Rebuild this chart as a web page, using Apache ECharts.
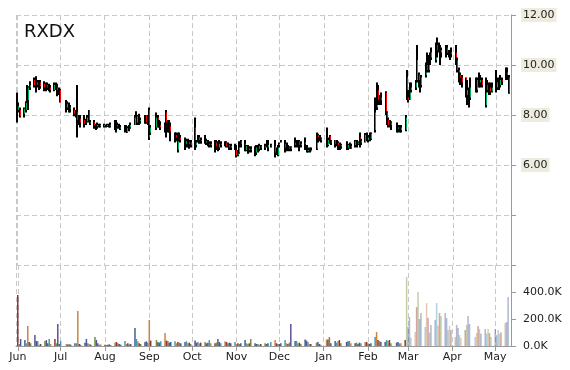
<!DOCTYPE html>
<html><head><meta charset="utf-8">
<script src="https://cdn.jsdelivr.net/npm/echarts@6/dist/echarts.min.js"></script>
<style>html,body{margin:0;padding:0;background:#fff}#c{width:570px;height:370px}</style>
</head><body><div id="c"></div>
<script>
const chartTitle = 'RXDX';
const monthNames = ['Jan','Feb','Mar','Apr','May','Jun','Jul','Aug','Sep','Oct','Nov','Dec'];
const firstDay = '2016-06-01';
const lastDay = '2017-05-10';
const holidays = ['2016-07-04','2016-09-05','2016-11-24','2016-12-26','2017-01-02','2017-01-16','2017-02-20','2017-04-14'];
const priceTicks = [2,4,6,8,10,12];
const volumeTicks = [0,200000,400000,600000];

// daily rows: [open, close, low, high]
const ohlcJun16 = [[8.4,8.2,7.7,8.9],[8.2,8.35,8.1,8.5],[8.2,7.95,7.9,8.3],[8.05,8.25,7.9,8.3],[8.2,8.5,8.1,8.55],[8.5,9.0,8.5,9.2],[8.6,9.1,8.2,9.15],[9.1,9.2,9.0,9.35],[9.4,9.2,9.1,9.5],[9.2,9.3,8.9,9.55],[9.3,9.2,9.1,9.4],[9.2,9.3,9.0,9.4],[9.3,9.15,9.05,9.4],[9.25,9.1,8.95,9.35],[9.1,9.2,8.95,9.3],[9.2,9.1,9.0,9.3],[9.05,9.2,8.95,9.25],[9.1,9.0,8.9,9.2],[9.0,9.2,8.95,9.3],[9.2,9.1,9.0,9.3],[9.1,9.0,8.75,9.25],[9.0,8.85,8.8,9.1]];
const ohlcJul16 = [[9.0,8.5,8.5,9.05],[8.5,8.3,8.1,8.6],[8.3,8.45,8.2,8.55],[8.4,8.3,8.1,8.5],[8.3,8.3,8.1,8.4],[8.2,8.05,7.95,8.3],[8.0,8.1,7.9,8.2],[8.1,7.8,7.1,9.2],[7.8,7.9,7.6,8.0],[7.85,7.7,7.5,8.0],[7.8,7.65,7.5,8.0],[7.7,7.75,7.6,7.85],[7.75,7.9,7.7,8.0],[8.2,7.7,7.7,8.2],[7.7,7.7,7.6,7.8],[7.7,7.6,7.45,7.8],[7.6,7.55,7.4,7.65],[7.55,7.6,7.45,7.7],[7.6,7.55,7.5,7.65],[7.55,7.6,7.5,7.65]];
const ohlcAug16 = [[7.55,7.6,7.5,7.65],[7.6,7.55,7.5,7.62],[7.55,7.6,7.52,7.65],[7.6,7.58,7.5,7.65],[7.58,7.6,7.5,7.7],[7.7,7.5,7.4,7.8],[7.45,7.6,7.3,7.8],[7.6,7.55,7.45,7.7],[7.55,7.5,7.45,7.65],[7.5,7.5,7.4,7.6],[7.5,7.45,7.3,7.6],[7.45,7.5,7.35,7.6],[7.3,7.48,7.28,7.55],[7.45,7.5,7.35,7.6],[7.5,7.6,7.45,7.7],[7.6,8.0,7.6,8.0],[8.0,7.95,7.9,8.15],[7.7,7.95,7.6,8.0],[7.9,7.75,7.6,8.05],[7.75,7.8,7.65,7.9],[7.8,7.9,7.65,8.0],[8.0,7.7,7.65,8.0],[7.75,7.8,7.6,8.0]];
const ohlcSep16 = [[8.2,7.1,7.0,8.3],[7.3,7.5,7.2,7.6],[7.5,7.9,7.4,8.1],[7.9,7.7,7.5,8.0],[7.7,7.6,7.5,7.8],[7.6,7.5,7.4,7.75],[7.5,7.6,7.3,7.7],[8.1,7.7,7.1,8.2],[7.35,7.7,7.3,7.8],[7.7,7.5,7.3,7.8],[7.55,7.35,6.95,7.7],[7.3,7.2,6.9,7.3],[7.2,7.1,6.95,7.3],[6.6,7.2,6.5,7.3],[7.2,7.1,6.95,7.3],[7.1,7.0,6.9,7.2],[7.0,6.8,6.6,7.1],[6.85,6.95,6.7,7.05],[7.0,6.85,6.7,7.05],[6.85,6.9,6.65,7.0],[6.9,6.8,6.7,7.0]];
const ohlcOct16 = [[7.5,6.8,6.6,7.9],[6.8,6.9,6.7,7.0],[6.95,7.1,6.9,7.2],[7.1,7.0,6.85,7.2],[7.0,6.95,6.85,7.1],[7.0,6.9,6.85,7.2],[6.9,6.95,6.8,7.05],[6.95,6.85,6.75,7.0],[6.85,6.8,6.7,6.95],[6.8,6.85,6.7,6.95],[6.85,6.9,6.5,7.0],[6.9,6.75,6.6,7.0],[6.85,6.65,6.55,6.95],[6.7,6.85,6.6,7.0],[6.85,6.8,6.7,6.95],[6.85,6.9,6.75,6.95],[6.9,6.75,6.7,6.95],[6.75,6.8,6.7,6.9],[6.8,6.7,6.6,6.85],[6.7,6.75,6.6,6.85],[6.75,6.7,6.6,6.85]];
const ohlcNov16 = [[6.6,6.4,6.3,6.8],[6.4,6.5,6.35,6.6],[6.5,6.7,6.45,6.95],[6.95,6.85,6.7,7.0],[6.85,6.8,6.55,7.0],[6.6,6.75,6.55,6.8],[6.75,6.6,6.45,6.8],[6.6,6.65,6.5,6.75],[6.65,6.6,6.5,6.75],[6.6,6.5,6.35,6.75],[6.5,6.7,6.4,6.8],[6.7,6.65,6.5,6.8],[6.65,6.75,6.55,6.85],[6.75,6.7,6.6,6.8],[6.7,6.75,6.6,6.85],[6.9,6.8,6.7,7.0],[6.7,6.8,6.55,7.0],[6.8,6.75,6.7,6.85],[6.75,6.5,6.3,7.0],[6.5,6.55,6.4,6.7],[6.4,6.8,6.35,6.8]];
const ohlcDec16 = [[6.8,6.85,6.7,6.9],[6.97,6.95,6.9,7.0],[6.85,6.7,6.5,7.0],[6.7,6.75,6.55,6.9],[6.75,6.7,6.6,6.8],[6.7,6.65,6.55,6.75],[6.65,6.7,6.55,6.75],[6.9,6.8,6.7,7.1],[6.8,6.85,6.7,7.0],[6.85,6.9,6.8,7.0],[6.95,6.8,6.55,7.0],[6.8,6.85,6.7,6.95],[6.85,6.9,6.6,7.1],[6.7,6.55,6.5,6.8],[6.6,6.6,6.5,6.7],[6.65,6.55,6.5,6.7],[6.6,6.6,6.55,6.7],[6.65,7.2,6.6,7.3],[7.2,7.1,6.9,7.25],[7.1,7.05,6.95,7.2],[7.05,7.0,6.9,7.1]];
const ohlcJan17 = [[7.0,7.1,6.7,7.5],[6.8,7.0,6.75,7.1],[7.15,6.95,6.85,7.2],[6.95,6.9,6.8,7.0],[7.0,6.85,6.7,7.0],[6.85,6.9,6.75,7.0],[6.9,6.8,6.6,6.95],[6.8,6.75,6.6,6.9],[6.75,6.8,6.65,6.85],[6.85,6.75,6.6,6.95],[6.7,6.8,6.6,6.85],[6.85,6.7,6.65,6.9],[6.7,6.75,6.65,6.85],[6.8,6.95,6.7,7.0],[6.95,6.85,6.7,7.0],[6.85,6.9,6.8,6.95],[7.1,6.9,6.7,7.3],[6.9,6.95,6.8,7.05],[6.92,7.2,6.9,7.28],[7.2,7.1,6.95,7.3]];
const ohlcFeb17 = [[7.0,7.1,6.9,7.2],[7.1,7.05,6.95,7.3],[7.05,7.25,7.0,7.3],[7.4,8.1,7.3,8.7],[8.3,9.0,8.2,9.3],[9.0,8.6,8.4,9.2],[8.5,8.7,8.4,8.8],[8.7,8.6,8.4,8.9],[8.9,8.1,8.0,8.95],[8.1,7.8,7.6,8.15],[7.8,7.6,7.5,7.9],[7.6,7.7,7.5,7.8],[7.7,7.6,7.4,7.75],[7.6,7.45,7.3,7.7],[7.45,7.5,7.3,7.6],[7.5,7.4,7.3,7.6],[7.4,7.5,7.3,7.6],[7.4,7.9,7.35,8.0],[9.5,8.7,8.6,9.8]];
const ohlcMar17 = [[8.7,8.6,8.5,9.0],[8.6,9.0,8.6,9.3],[9.0,9.1,8.9,9.3],[9.1,9.3,9.0,9.4],[9.4,10.2,9.3,10.8],[9.6,9.3,9.1,9.7],[9.3,9.2,8.9,9.4],[9.2,9.5,9.1,9.6],[9.6,9.8,9.5,10.1],[10.0,9.8,9.7,10.5],[9.8,10.2,9.7,10.4],[10.2,10.3,10.0,10.5],[10.3,10.5,10.2,10.7],[10.2,10.7,10.1,10.9],[10.8,10.6,10.3,11.1],[10.6,10.8,10.5,10.9],[10.7,10.5,10.0,10.8],[10.5,10.6,10.3,10.7],[10.5,10.75,10.3,10.8],[10.7,10.5,10.4,10.8],[10.5,10.4,10.3,10.6],[10.4,10.45,10.2,10.5],[10.45,10.5,10.3,10.7]];
const ohlcApr17 = [[10.5,10.2,10.0,10.8],[10.2,9.8,9.7,10.3],[9.8,9.6,9.3,9.9],[9.6,9.5,9.2,9.7],[9.5,9.3,9.1,9.6],[9.5,8.9,8.7,9.5],[8.8,9.0,8.4,9.4],[9.0,8.7,8.3,9.1],[8.7,9.1,8.6,9.5],[9.2,9.0,8.9,9.5],[9.0,9.4,8.9,9.5],[9.5,9.3,9.1,9.7],[9.3,9.4,9.1,9.6],[9.4,9.2,9.1,9.5],[8.4,9.2,8.3,9.5],[9.2,9.0,8.9,9.4],[9.0,9.1,8.8,9.3],[9.1,8.95,8.8,9.3],[8.95,9.1,8.9,9.3]];
const ohlcMay17 = [[9.3,9.1,8.9,9.8],[9.1,9.3,9.0,9.5],[9.3,9.2,9.0,9.5],[9.2,9.4,9.1,9.6],[9.4,9.35,9.2,9.5],[9.4,9.7,9.4,9.9],[9.7,9.6,9.4,9.9],[9.5,8.9,8.85,9.6]];

// daily volume, thousands of shares
const volJun16 = [378,15,52,44,20,148,30,20,81,37,37,10,15,37,44,20,52,15,52,20,163,15];
const volJul16 = [37,15,12,15,10,20,20,259,15,10,25,52,20,15,10,67,45,20,10,12];
const volAug16 = [10,8,10,12,8,25,30,20,15,10,37,15,20,12,15,133,52,35,20,15,30,35,25];
const volSep16 = [193,40,45,30,25,35,96,40,37,25,30,35,20,30,25,20,30,35,20,25,15];
const volOct16 = [40,25,30,20,25,30,20,25,44,20,20,25,52,30,20,35,30,20,25,20,30];
const volNov16 = [15,20,15,20,44,20,15,20,52,20,15,15,10,15,20,15,20,30,44,20,15];
const volDec16 = [15,20,44,20,15,25,163,37,37,20,25,15,48,40,30,15,15,25,30,15,10];
const volJan17 = [48,48,67,20,37,25,37,44,20,30,35,37,20,20,25,15,25,20,30,30];
const volFeb17 = [20,15,20,67,104,44,37,30,30,44,37,44,20,25,30,20,20,44,511];
const volMar17 = [141,215,60,104,289,400,200,244,141,318,207,100,156,193,318,150,244,222,244,207,119,150,119];
const volApr17 = [67,156,133,81,60,119,156,222,163,67,96,148,126,90,126,93,126,96,67];
const volMay17 = [126,80,119,90,100,170,178,363];

const fadeFrom = '2017-02-28';
const volumePalette = ['#8b2a2a','#6b8c2e','#4f4a8e','#2f5b8f','#3c93ad','#c77d3a'];

function pad(n){return (n<10?'0':'')+n;}
function ymd(d){return d.getFullYear()+'-'+pad(d.getMonth()+1)+'-'+pad(d.getDate());}
function tradingDays(){
  const out=[]; const d=new Date(firstDay+'T00:00:00'); const end=new Date(lastDay+'T00:00:00');
  while(d<=end){const w=d.getDay(); const s=ymd(d); if(w!==0&&w!==6&&holidays.indexOf(s)<0) out.push(s); d.setDate(d.getDate()+1);}
  return out;
}
const dates = tradingDays();
const ohlc = [].concat(ohlcJun16,ohlcJul16,ohlcAug16,ohlcSep16,ohlcOct16,ohlcNov16,ohlcDec16,ohlcJan17,ohlcFeb17,ohlcMar17,ohlcApr17,ohlcMay17);
const vols = [].concat(volJun16,volJul16,volAug16,volSep16,volOct16,volNov16,volDec16,volJan17,volFeb17,volMar17,volApr17,volMay17);

const candleData = ohlc.map((r,i)=>[dates[i], r[0], r[1], r[2], r[3]]);
const volData = vols.map((v,i)=>({value:[dates[i], v*1000], itemStyle:{color: volumePalette[i%volumePalette.length], opacity: dates[i]>=fadeFrom?0.42:0.95}}));

const DAY = 86400000;
const xMin = new Date(2016,4,31,7).getTime();
const xMax = new Date(2017,4,11,12).getTime();
const gridColor = '#c8c8c8';
const axisColor = '#9a9a9a';
const upColor = '#00b050', downColor = '#ff0000';
const font = 'DejaVu Sans';
function monthLabel(v){const d=new Date(v); return (d.getDate()===1&&d.getHours()===0)?monthNames[d.getMonth()]:'';}

function renderCandle(params, api){
  const t = api.value(0), o = api.value(1), c = api.value(2), l = api.value(3), h = api.value(4);
  const x = Math.round(api.coord([t, l])[0]);
  const yl = api.coord([t, l])[1], yh = api.coord([t, h])[1];
  const yo = api.coord([t, o])[1], yc = api.coord([t, c])[1];
  const top = Math.min(yo, yc), bh = Math.max(1, Math.abs(yo - yc));
  return {type:'group', children:[
    {type:'rect', shape:{x:x-1, y:yh, width:2, height:Math.max(1, yl-yh)}, style:{fill:'#000'}},
    {type:'rect', shape:{x:x, y:top, width:1, height:bh}, style:{fill: c>=o?upColor:downColor}}
  ]};
}

const baseX = {type:'time', min:xMin, max:xMax, splitNumber:12, minInterval:28*DAY, maxInterval:31*DAY,
  splitLine:{show:true, lineStyle:{color:gridColor, type:[5,3], width:1}}};

const option = {
  animation:false,
  backgroundColor:'#ffffff',
  title:{text:chartTitle, left:24, top:23, padding:0, textStyle:{fontFamily:font, fontSize:18, fontWeight:'normal', color:'#111'}},
  grid:[
    {left:16, right:59, top:15, height:250},
    {left:16, right:59, top:265, height:81}
  ],
  xAxis:[
    Object.assign({}, baseX, {gridIndex:0, axisLine:{show:false}, axisTick:{show:false}, axisLabel:{show:false}}),
    Object.assign({}, baseX, {gridIndex:1, axisLine:{show:true, lineStyle:{color:axisColor}}, axisTick:{show:true, length:5, lineStyle:{color:axisColor}},
      axisLabel:{formatter:monthLabel, fontFamily:font, fontSize:11, color:'#222', margin:6}})
  ],
  yAxis:[
    {type:'value', gridIndex:0, position:'right', min:priceTicks[0], max:priceTicks[priceTicks.length-1], interval:2,
     axisLine:{show:true, lineStyle:{color:axisColor}}, axisTick:{show:true, length:5, lineStyle:{color:axisColor}},
     splitLine:{show:true, lineStyle:{color:gridColor, type:[5,3]}},
     axisLabel:{margin:10, formatter:v=> v>=6 ? '{b|'+v.toFixed(2)+'}' : '',
       rich:{b:{backgroundColor:'#eeebdf', padding:[2,2,1,2], color:'#222', fontFamily:font, fontSize:11}}}},
    {type:'value', gridIndex:1, position:'right', min:volumeTicks[0], max:volumeTicks[volumeTicks.length-1], interval:200000,
     axisLine:{show:true, lineStyle:{color:axisColor}}, axisTick:{show:true, length:5, lineStyle:{color:axisColor}},
     splitLine:{show:false},
     axisLabel:{margin:12, fontFamily:font, fontSize:11, color:'#222', formatter:v=> v<600000 ? (v/1000).toFixed(1)+'K' : ''}}
  ],
  series:[
    {type:'custom', xAxisIndex:0, yAxisIndex:0, data:candleData, encode:{x:0, y:[1,2,3,4]}, renderItem:renderCandle, clip:true, z:3},
    {type:'bar', xAxisIndex:1, yAxisIndex:1, data:volData, barWidth:1.5, z:3}
  ]
};
const chart = echarts.init(document.getElementById('c'));
chart.setOption(option);
</script></body></html>
